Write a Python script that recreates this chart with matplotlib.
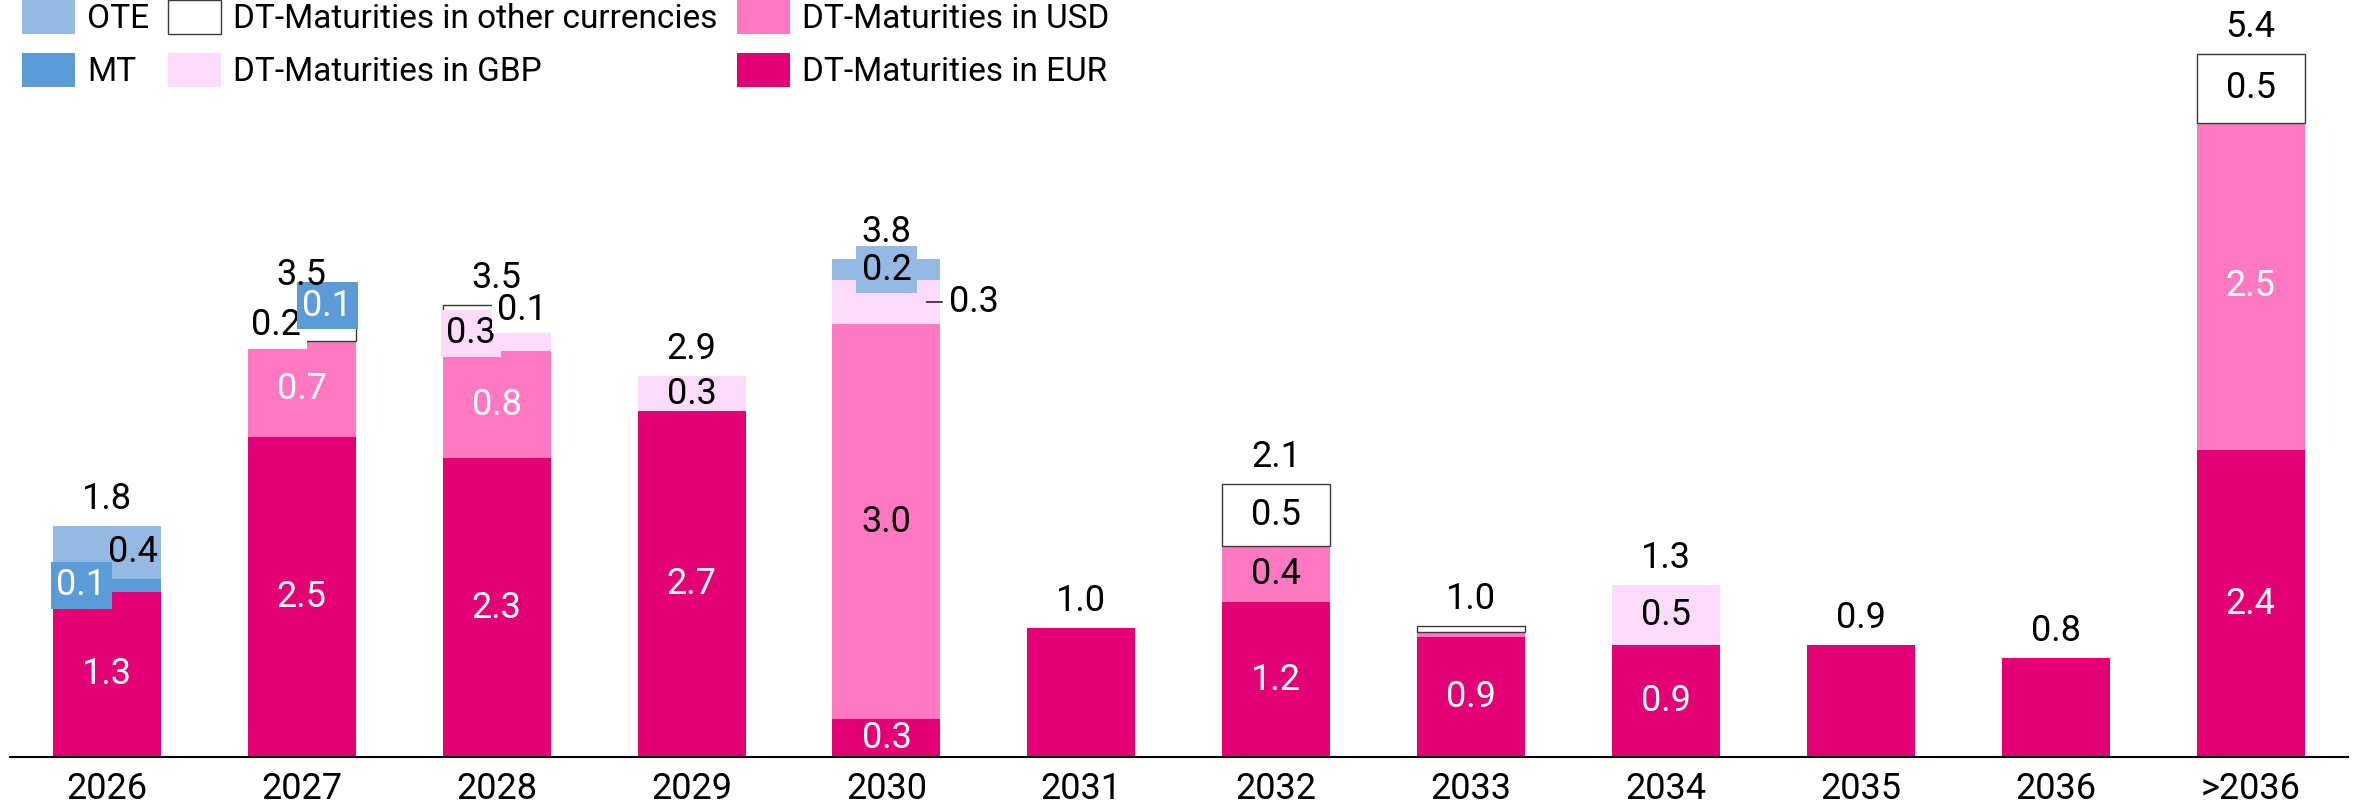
import matplotlib.pyplot as plt
import numpy as np

# values in bn EUR (bottom to top: EUR, USD, GBP, other, MT, OTE)
years = ['2026', '2027', '2028', '2029', '2030', '2031', '2032', '2033', '2034', '2035', '2036', '>2036']
eur = [1.27, 2.46, 2.30, 2.66, 0.29, 0.99, 1.19, 0.92, 0.86, 0.86, 0.76, 2.36]
usd = [0, 0.74, 0.82, 0, 3.04, 0, 0.43, 0.04, 0, 0, 0, 2.52]
gbp = [0, 0, 0.28, 0.27, 0.34, 0, 0, 0, 0.46, 0, 0, 0]
other = [0, 0.24, 0.08, 0, 0, 0, 0.48, 0.05, 0, 0, 0, 0.53]
mt = [0.10, 0.06, 0, 0, 0, 0, 0, 0, 0, 0, 0, 0]
ote = [0.41, 0, 0, 0, 0.16, 0, 0, 0, 0, 0, 0, 0]

plt.rcParams['font.family'] = ['Roboto', 'DejaVu Sans']
plt.rcParams['font.size'] = 26

W, H = 2356, 806
fig = plt.figure(figsize=(W / 100, H / 100), dpi=100)
ax = fig.add_axes([9.5 / W, 49 / H, (2348 - 9.5) / W, 757 / H])

x = np.arange(len(years))
width = 0.554
px = 1 / 195  # one pixel in x data units

series = [
    ('eur', 'DT-Maturities in EUR', eur, '#E20074'),
    ('usd', 'DT-Maturities in USD', usd, '#FF78C1'),
    ('gbp', 'DT-Maturities in GBP', gbp, '#FDDBFA'),
    ('other', 'DT-Maturities in other currencies', other, 'white'),
    ('mt', 'MT', mt, '#5B9BD8'),
    ('ote', 'OTE', ote, '#94B9E3'),
]

# label placement for the small segments
white_txt = {'eur'}
dark_usd = {4, 6}
skip = {('usd', 7), ('other', 7)}
special = {
    ('mt', 0): ('left', '#5B9BD8', 'white'),
    ('ote', 0): ('right', None, 'black'),
    ('other', 1): ('left', 'white', 'black'),
    ('mt', 1): ('right', '#5B9BD8', 'white'),
    ('gbp', 2): ('left', '#FDDBFA', 'black'),
    ('other', 2): ('right', 'white', 'black'),
    ('ote', 4): ('center', '#94B9E3', 'black'),
    ('gbp', 4): ('outside', None, 'black'),
}

totals = np.sum([eur, usd, gbp, other, mt, ote], axis=0)
single = np.isclose(np.array(eur), totals)  # bars with one segment only carry the total

bottom = np.zeros(len(years))
handles = {}
for key, name, vals, col in series:
    vals = np.array(vals)
    m = vals > 0
    if col == 'white':
        b = ax.bar(x[m], vals[m], width, bottom=bottom[m], color=col, edgecolor='#3a3a3a', linewidth=1.0, label=name)
    else:
        b = ax.bar(x[m], vals[m], width, bottom=bottom[m], color=col, linewidth=0, label=name)
    handles[key] = b
    for i in np.where(m)[0]:
        v = vals[i]
        yc = bottom[i] + v / 2
        lab = f'{v:.1f}'
        if (key, i) in skip or single[i]:
            continue
        if (key, i) in special:
            pos, fc, tc = special[(key, i)]
            bbox = dict(boxstyle='square,pad=0.15', fc=fc, ec='none') if fc else None
            if pos == 'left':
                ax.annotate(lab, (i - width / 2, yc), xytext=(2.5, 0), textcoords='offset points',
                            ha='left', va='center', color=tc, bbox=bbox)
            elif pos == 'right':
                ax.annotate(lab, (i + width / 2, yc), xytext=(-2.5, 0), textcoords='offset points',
                            ha='right', va='center', color=tc, bbox=bbox)
            elif pos == 'center':
                ax.text(i, yc, lab, ha='center', va='center', color=tc, bbox=bbox)
            else:
                ax.annotate(lab, (i + width / 2 - 14 * px, yc), xytext=(16.5, 0), textcoords='offset points',
                            ha='left', va='center', color=tc,
                            arrowprops=dict(arrowstyle='-', color='black', lw=1.0, shrinkA=3, shrinkB=0))
            continue
        tc = 'white' if key in white_txt else 'black'
        if key == 'usd' and i not in dark_usd:
            tc = 'white'
        ax.text(i, yc, lab, ha='center', va='center', color=tc)
    bottom += vals

for i, tot in enumerate(bottom):
    ax.annotate(f'{tot:.1f}', (i, tot), xytext=(0, 19.4), textcoords='offset points',
                ha='center', va='center', color='black')

ax.set_xlim(-0.5, 11.5)
ax.set_ylim(0, 757 / 130)
ax.set_xticks(x)
ax.set_xticklabels(years)
ax.set_yticks([])
ax.tick_params(axis='x', length=0, pad=10)
for s in ['top', 'left', 'right']:
    ax.spines[s].set_visible(False)
ax.spines['bottom'].set_linewidth(1.5)
ax.spines['bottom'].set_color('black')

order = ['ote', 'mt', 'other', 'gbp', 'usd', 'eur']
ax.legend([handles[k] for k in order], [handles[k].get_label() for k in order],
          loc='upper left', bbox_to_anchor=(22 / W, 1.0), bbox_transform=fig.transFigure,
          ncol=3, frameon=False, fontsize=24, handlelength=1.6, handleheight=1.2,
          handletextpad=0.35, columnspacing=0.57, labelspacing=0.53, borderaxespad=0, borderpad=0)

fig.savefig('out.png', dpi=100)
